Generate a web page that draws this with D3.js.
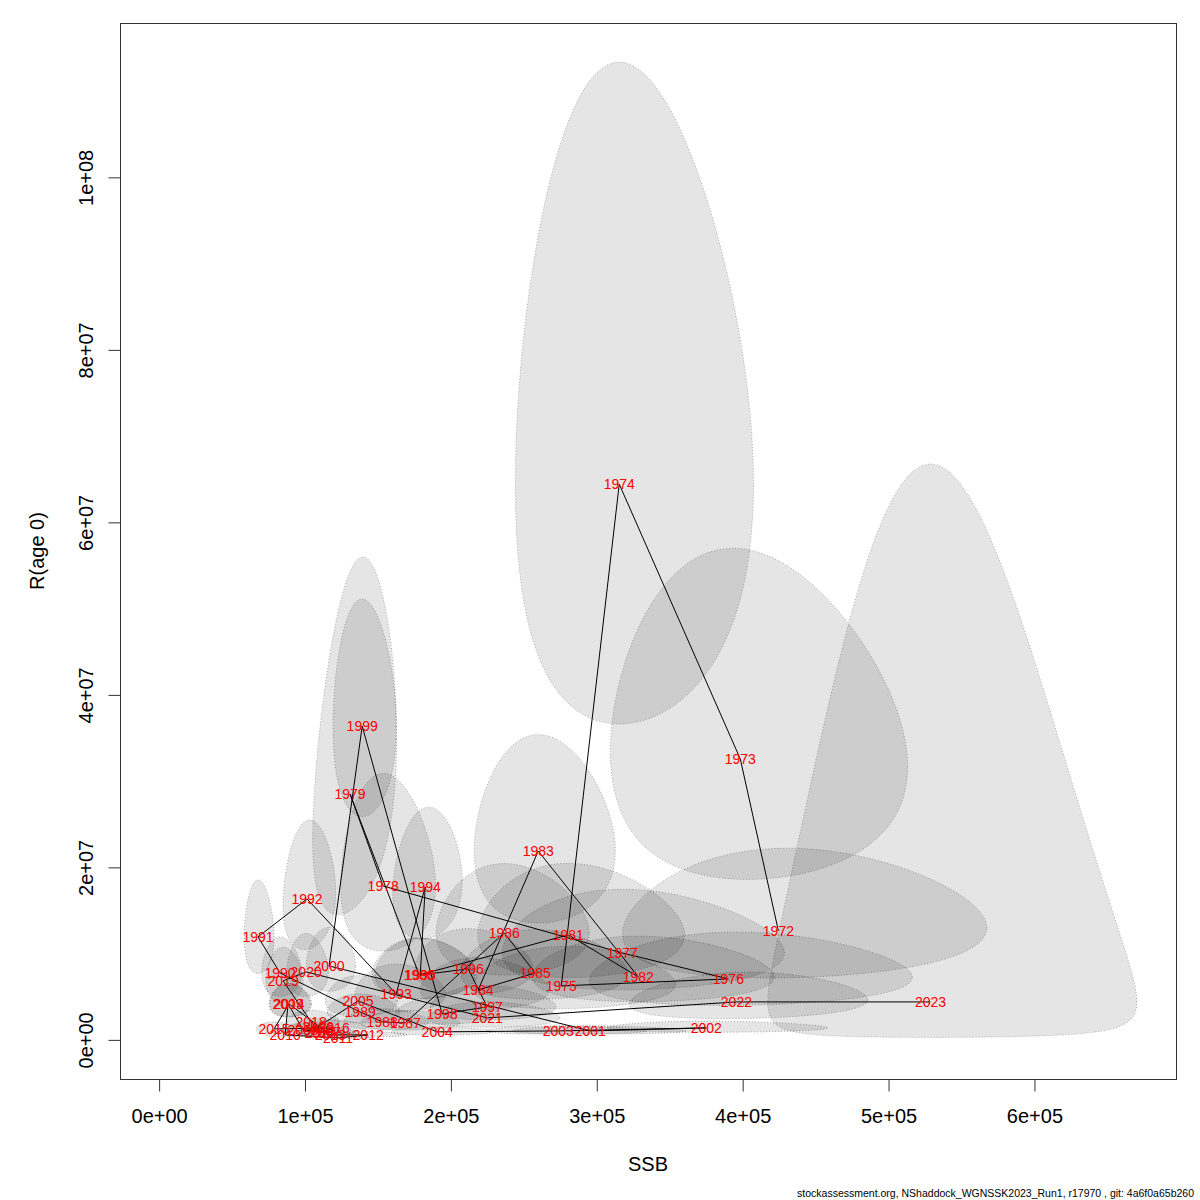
<!DOCTYPE html>
<html>
<head>
<meta charset="utf-8">
<script src="https://cdn.jsdelivr.net/npm/d3@7"></script>
<style>
  body { margin: 0; background: #fff; }
  svg { display: block; }
  text { font-family: "Liberation Sans", Arial, Helvetica, sans-serif; }
</style>
</head>
<body>
<div id="chart"></div>
<script>
const years = [1972, 1973, 1974, 1975, 1976, 1977, 1978, 1979, 1980, 1981,
  1982, 1983, 1984, 1985, 1986, 1987, 1988, 1989, 1990, 1991,
  1992, 1993, 1994, 1995, 1996, 1997, 1998, 1999, 2000, 2001,
  2002, 2003, 2004, 2005, 2006, 2007, 2008, 2009, 2010, 2011,
  2012, 2013, 2014, 2015, 2016, 2017, 2018, 2019, 2020, 2021,
  2022, 2023];

// SSB (t) and recruits at age 0
const ssb = [424500, 398400, 315400, 275700, 390200, 317500, 153600, 130900, 178300, 280500,
  328500, 259900, 218700, 257800, 236600, 168700, 152900, 137800, 82900, 67800,
  101400, 162500, 182400, 179000, 211900, 224900, 194000, 139200, 116500, 295600,
  375100, 273600, 190600, 136400, 109000, 114000, 98700, 88400, 86400, 122700,
  143300, 117300, 89100, 78800, 120000, 110300, 104200, 85000, 100800, 224900,
  395700, 528800];

const rec = [12630000, 32560000, 64430000, 6260000, 7070000, 10080000, 17840000, 28510000, 7530000, 12170000,
  7300000, 21900000, 5790000, 7760000, 12400000, 1970000, 2090000, 3240000, 7760000, 11940000,
  16340000, 5330000, 17730000, 7530000, 8230000, 3820000, 3010000, 36380000, 8570000, 1040000,
  1390000, 1040000, 930000, 4520000, 1510000, 930000, 1160000, 4170000, 580000, 230000,
  580000, 580000, 4170000, 1270000, 1390000, 810000, 2090000, 6840000, 7880000, 2550000,
  4400000, 4400000];

// confidence region half-widths on log scale and correlation
const ciLogSSB = [0.29, 0.253, 0.256, 0.25, 0.28, 0.30, 0.21, 0.218, 0.20, 0.25,
  0.25, 0.185, 0.20, 0.22, 0.22, 0.20, 0.19, 0.18, 0.164, 0.15,
  0.177, 0.19, 0.13, 0.19, 0.19, 0.19, 0.18, 0.155, 0.144, 0.20,
  0.20, 0.20, 0.18, 0.18, 0.17, 0.17, 0.17, 0.16, 0.17, 0.17,
  0.17, 0.17, 0.16, 0.17, 0.17, 0.17, 0.17, 0.15, 0.14, 0.20,
  0.205, 0.237];

const ciLogRec = [0.565, 0.56, 0.565, 0.55, 0.57, 0.55, 0.55, 0.675, 0.45, 0.52,
  0.50, 0.48, 0.50, 0.50, 0.50, 0.55, 0.55, 0.50, 0.43, 0.44,
  0.445, 0.50, 0.42, 0.45, 0.45, 0.50, 0.50, 0.34, 0.42, 0.45,
  0.45, 0.45, 0.50, 0.50, 0.50, 0.50, 0.50, 0.45, 0.50, 0.50,
  0.50, 0.50, 0.45, 0.50, 0.50, 0.50, 0.50, 0.45, 0.45, 0.55,
  0.58, 2.72];

const ciCor = [0.05, -0.05, 0, 0.05, 0.05, 0, 0, 0.3, 0, 0,
  0, 0, 0, 0, 0, 0, 0, 0, 0, 0,
  0.1, 0, 0.1, 0, 0, 0, 0, 0, 0, 0,
  0, 0, 0, 0, 0, 0, 0, 0, 0, 0,
  0, 0, 0, 0, 0, 0, 0, 0, 0, 0,
  0.1, 0];

const xTicks = [0, 1e5, 2e5, 3e5, 4e5, 5e5, 6e5];
const xTickLabels = ["0e+00", "1e+05", "2e+05", "3e+05", "4e+05", "5e+05", "6e+05"];
const yTicks = [0, 2e7, 4e7, 6e7, 8e7, 1e8];
const yTickLabels = ["0e+00", "2e+07", "4e+07", "6e+07", "8e+07", "1e+08"];

const footer = "stockassessment.org, NShaddock_WGNSSK2023_Run1, r17970 , git: 4a6f0a65b260";

const W = 1200, H = 1200;
const plot = { left: 120, right: 1176, top: 23, bottom: 1079 };

const data = years.map((y, i) => ({
  year: y, ssb: ssb[i], rec: rec[i],
  a: ciLogSSB[i], b: ciLogRec[i], rho: ciCor[i]
}));

// ellipse on log scale, back-transformed
const nPts = 120;
data.forEach(d => {
  const pts = [];
  const s = Math.sqrt(1 - d.rho * d.rho);
  for (let k = 0; k < nPts; k++) {
    const t = 2 * Math.PI * k / nPts;
    const u = Math.cos(t);
    const v = d.rho * Math.cos(t) + s * Math.sin(t);
    pts.push([Math.exp(Math.log(d.ssb) + d.a * u), Math.exp(Math.log(d.rec) + d.b * v)]);
  }
  d.poly = pts;
});

const xMax = d3.max(data, d => d3.max(d.poly, p => p[0]));
const yMax = d3.max(data, d => d3.max(d.poly, p => p[1]));
const xPad = 0.04 * xMax, yPad = 0.04 * yMax;

const x = d3.scaleLinear().domain([-xPad, xMax + xPad]).range([plot.left, plot.right]);
const y = d3.scaleLinear().domain([-yPad, yMax + yPad]).range([plot.bottom, plot.top]);

const svg = d3.select("#chart")
  .append("svg")
  .attr("width", W)
  .attr("height", H);

svg.append("rect").attr("width", W).attr("height", H).attr("fill", "#fff");

const line = d3.line().x(p => x(p[0])).y(p => y(p[1]));

const g = svg.append("g");

g.selectAll(".ci")
  .data(data)
  .join("path")
  .attr("class", "ci")
  .attr("d", d => line(d.poly) + "Z")
  .attr("fill", "rgba(0,0,0,0.1)")
  .attr("stroke", "rgba(0,0,0,0.3)")
  .attr("stroke-width", 1)
  .attr("stroke-dasharray", "1,2");

g.append("path")
  .datum(data)
  .attr("fill", "none")
  .attr("stroke", "#000")
  .attr("stroke-width", 1)
  .attr("d", d3.line().x(d => x(d.ssb)).y(d => y(d.rec)));

g.selectAll(".yr")
  .data(data)
  .join("text")
  .attr("class", "yr")
  .attr("x", d => x(d.ssb))
  .attr("y", d => y(d.rec))
  .attr("dy", "0.36em")
  .attr("text-anchor", "middle")
  .attr("fill", "#ff0000")
  .attr("font-size", 14)
  .text(d => d.year);

// box
svg.append("rect")
  .attr("x", plot.left + 0.5)
  .attr("y", plot.top + 0.5)
  .attr("width", plot.right - plot.left)
  .attr("height", plot.bottom - plot.top)
  .attr("fill", "none")
  .attr("stroke", "#333");

// axes
const xAxis = svg.append("g")
  .attr("transform", `translate(0,${plot.bottom + 0.5})`)
  .call(d3.axisBottom(x).tickValues(xTicks).tickSize(12)
    .tickFormat((d, i) => xTickLabels[i]));
xAxis.select(".domain").remove();
xAxis.selectAll(".tick line").attr("stroke", "#333");
xAxis.selectAll(".tick text")
  .attr("y", 43.5).attr("dy", null)
  .attr("fill", "#000")
  .attr("font-size", 20)
  .attr("font-family", "Liberation Sans, Arial, sans-serif");

const yAxis = svg.append("g")
  .attr("transform", `translate(${plot.left + 0.5},0)`)
  .call(d3.axisLeft(y).tickValues(yTicks).tickSize(12)
    .tickFormat((d, i) => yTickLabels[i]));
yAxis.select(".domain").remove();
yAxis.selectAll(".tick line").attr("stroke", "#333");
yAxis.selectAll(".tick text")
  .attr("x", null).attr("dy", null)
  .attr("transform", "translate(-28,0) rotate(-90)")
  .attr("text-anchor", "middle")
  .attr("fill", "#000")
  .attr("font-size", 20)
  .attr("font-family", "Liberation Sans, Arial, sans-serif");

svg.append("text")
  .attr("x", (plot.left + plot.right) / 2)
  .attr("y", 1171)
  .attr("text-anchor", "middle")
  .attr("font-size", 20)
  .text("SSB");

svg.append("text")
  .attr("transform", `translate(44,${(plot.top + plot.bottom) / 2}) rotate(-90)`)
  .attr("text-anchor", "middle")
  .attr("font-size", 20)
  .text("R(age 0)");

svg.append("text")
  .attr("x", 1194)
  .attr("y", 1197)
  .attr("text-anchor", "end")
  .attr("font-size", 10.5)
  .text(footer);
</script>
</body>
</html>
